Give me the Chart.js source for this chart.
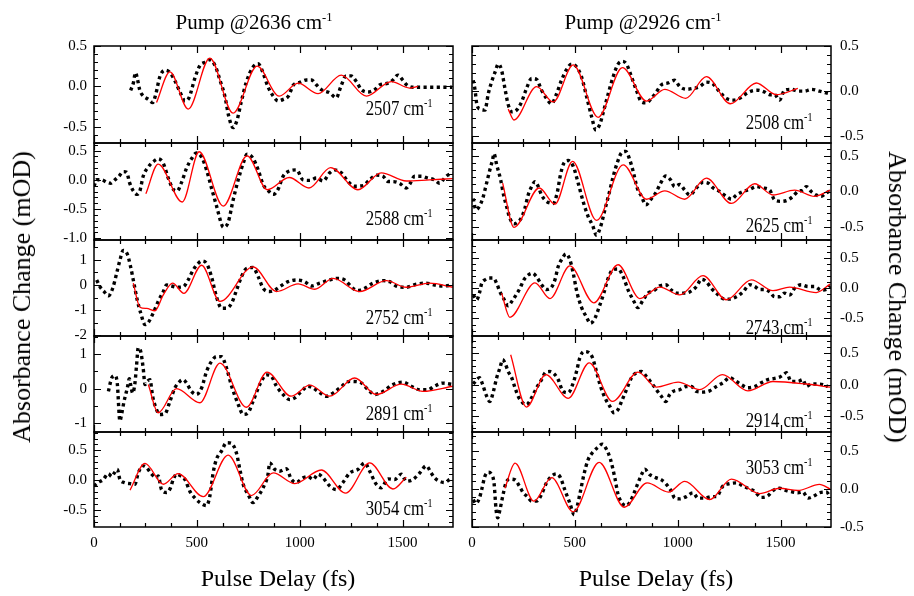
<!DOCTYPE html>
<html>
<head>
<meta charset="utf-8">
<script src="https://cdn.jsdelivr.net/npm/chart.js@4.4.1/dist/chart.umd.min.js"></script>
<style>
  body { margin: 0; background: #fff; }
  #wrap { position: relative; width: 914px; height: 596px; overflow: hidden;
          font-family: 'Liberation Serif', 'Times New Roman', serif; color: #000; }
  #wrap canvas { position: absolute; left: 0; top: 0; }
  .txt { position: absolute; white-space: nowrap; line-height: 1; }
  .txt sup { font-size: 0.6em; vertical-align: super; line-height: 0; }
  .wn { font-size: 20px; transform: scaleX(0.84); transform-origin: 100% 50%; }
</style>
</head>
<body>
<div id="wrap"></div>
<script>
// ── Data (delay in fs, absorbance change in mOD) ──
const pumpLabels = ['2636', '2926'];
const probeLabels = ['2507', '2588', '2752', '2891', '3054', '2508', '2625', '2743', '2914', '3053'];
const xTickLabels = [0, 500, 1000, 1500];

// pump 2636, probe 2507
const p2507Delay = [178,191,202,212,222,240,265,285,300,320,345,370,395,420,442,462,490,515,540,563,590,612,636,655,676,695,715,740,773,798,820,845,871,895,920,945,970,1000,1032,1057,1081,1105,1146,1178,1200,1225,1250,1275,1300,1332,1364,1390,1429,1453,1477,1500,1520,1550,1600,1650,1700,1740];
const p2507Signal = [-0.05,0.04,0.17,0.08,-0.04,-0.12,-0.16,-0.2,-0.1,0.12,0.2,0.17,0.06,-0.08,-0.18,-0.14,0.1,0.26,0.3,0.33,0.25,0.08,-0.12,-0.37,-0.51,-0.42,-0.2,0.05,0.24,0.28,0.18,0.0,-0.12,-0.18,-0.16,-0.12,0.02,0.05,0.08,0.08,0.02,-0.04,-0.08,-0.14,0.0,0.13,0.13,0.06,-0.04,-0.07,-0.04,0.02,0.04,0.08,0.14,0.08,0.02,-0.01,-0.01,-0.01,-0.01,-0.01];
const p2507FitDelay = [304,369,458,563,676,793,900,992,1089,1202,1324,1445,1534,1574];
const p2507Fit = [-0.2,0.18,-0.28,0.35,-0.33,0.25,-0.12,0.04,-0.09,0.14,-0.12,0.06,-0.02,0.0];

// pump 2636, probe 2588
const p2588Delay = [0,13,37,61,81,102,121,142,159,172,191,210,223,239,264,288,312,337,361,385,404,426,450,474,498,523,547,571,595,620,628,652,676,701,725,744,773,798,822,848,871,895,919,943,984,1016,1049,1081,1113,1146,1170,1202,1235,1267,1307,1340,1372,1405,1429,1453,1485,1518,1534,1558,1591,1623,1655,1680,1704,1720,1744];
const p2588Signal = [-0.11,0.0,0.0,-0.04,-0.06,0.0,0.06,0.14,0.13,-0.04,-0.19,-0.25,-0.19,0.06,0.22,0.31,0.36,0.28,0.03,-0.16,-0.19,-0.04,0.2,0.36,0.46,0.39,0.17,-0.14,-0.44,-0.76,-0.81,-0.73,-0.35,0.0,0.28,0.44,0.37,0.17,-0.08,-0.19,-0.25,-0.16,0.06,0.14,0.17,0.0,-0.01,0.03,-0.02,0.12,0.17,0.12,-0.03,-0.11,-0.1,0.0,0.08,0.06,-0.03,-0.03,-0.06,-0.14,-0.08,0.06,0.06,0.03,0.0,-0.06,0.03,0.08,0.11];
const p2588FitDelay = [252,312,429,511,628,744,843,949,1045,1150,1283,1396,1518,1631,1744];
const p2588Fit = [-0.24,0.27,-0.38,0.48,-0.45,0.41,-0.17,0.04,-0.14,0.21,-0.17,0.12,-0.02,0.0,0.02];

// pump 2636, probe 2752
const p2752Delay = [13,29,49,70,91,110,126,142,162,178,194,210,227,248,264,288,312,337,353,377,405,434,458,482,506,523,547,571,595,620,644,669,693,717,741,773,798,822,854,879,903,943,984,1024,1057,1097,1146,1186,1218,1259,1283,1316,1356,1405,1437,1477,1518,1566,1615,1655,1696,1744];
const p2752Signal = [0.2,-0.07,-0.26,-0.43,-0.13,0.46,0.98,1.37,1.22,0.72,0.07,-0.59,-1.11,-1.57,-1.48,-1.11,-0.65,-0.26,0.0,-0.04,-0.09,-0.07,0.2,0.59,0.85,0.95,0.85,0.33,-0.46,-0.92,-0.92,-0.72,-0.2,0.33,0.65,0.69,0.33,-0.13,-0.26,-0.2,-0.07,0.13,0.2,0.13,-0.04,0.07,0.2,0.26,0.2,-0.13,-0.22,-0.13,0.07,0.17,0.13,-0.07,-0.09,0.03,0.07,0.0,-0.04,0.0];
const p2752FitDelay = [191,223,256,296,337,382,437,523,612,773,887,992,1073,1162,1291,1421,1518,1631,1744];
const p2752Fit = [0.07,-0.88,-0.93,-1.02,-0.39,0.07,-0.33,0.78,-0.65,0.72,-0.26,0.04,-0.17,0.26,-0.26,0.17,-0.09,0.07,-0.09];

// pump 2636, probe 2891
const p2891Delay = [70,86,102,113,126,134,146,162,172,178,188,199,207,215,227,239,248,259,272,285,301,320,345,369,393,417,434,450,474,498,523,547,571,595,620,644,669,701,725,749,773,806,838,862,887,919,951,976,1008,1040,1065,1089,1129,1162,1194,1243,1291,1332,1364,1405,1453,1502,1542,1583,1623,1655,1696,1744];
const p2891Signal = [-0.08,0.31,0.38,0.16,-0.94,-0.75,-0.37,0.02,0.29,0.12,-0.13,0.16,0.69,1.19,1.08,0.6,0.12,0.21,0.26,-0.22,-0.56,-0.75,-0.73,-0.37,0.02,0.21,0.26,0.16,-0.08,-0.17,0.02,0.5,0.79,0.93,0.93,0.6,0.07,-0.46,-0.75,-0.7,-0.37,0.12,0.4,0.36,0.07,-0.17,-0.32,-0.27,-0.08,0.07,0.02,-0.08,-0.22,-0.13,0.02,0.21,0.19,-0.03,-0.17,-0.08,0.12,0.19,0.07,-0.03,-0.03,0.07,0.16,0.12];
const p2891FitDelay = [264,312,401,515,612,741,841,958,1049,1146,1267,1372,1494,1599,1744];
const p2891Fit = [0.12,-0.7,0.0,-0.41,0.74,-0.54,0.48,-0.22,0.1,-0.22,0.31,-0.17,0.13,-0.08,0.07];

// pump 2636, probe 3054
const p3054Delay = [0,21,45,70,86,97,113,126,146,175,199,215,239,256,280,304,312,328,353,372,385,401,417,442,466,490,515,547,563,579,595,620,644,668,692,709,725,749,773,798,822,846,854,879,903,935,960,984,1016,1040,1065,1089,1113,1146,1178,1210,1243,1283,1316,1340,1372,1396,1429,1461,1494,1518,1550,1583,1615,1639,1655,1680,1704,1728];
const p3054Signal = [-0.1,-0.04,0.01,0.11,0.06,0.11,0.18,0.01,-0.04,-0.06,-0.07,0.12,0.24,0.21,0.1,0.04,0.07,-0.16,-0.21,-0.13,0.01,0.1,0.08,0.01,-0.19,-0.3,-0.38,-0.43,-0.27,0.12,0.35,0.49,0.63,0.62,0.46,0.18,-0.07,-0.24,-0.38,-0.27,-0.13,0.1,0.29,0.18,0.15,0.19,0.01,-0.04,0.04,0.06,0.01,0.1,0.04,-0.1,-0.16,-0.04,0.12,0.18,0.29,0.15,-0.07,-0.13,0.02,0.01,0.1,-0.02,0.01,0.12,0.24,0.12,0.04,-0.02,-0.04,0.01];
const p3054FitDelay = [175,248,337,409,531,652,765,871,976,1105,1223,1340,1453,1518];
const p3054Fit = [-0.17,0.28,-0.07,0.11,-0.28,0.42,-0.26,0.12,-0.06,0.17,-0.22,0.29,-0.15,0.05];

// pump 2926, probe 2508
const q2508Delay = [6,15,23,39,63,79,95,112,128,144,160,176,193,217,241,265,290,314,338,362,387,411,435,460,484,508,532,557,581,602,621,641,662,686,710,731,751,775,799,824,848,872,896,921,953,985,1010,1042,1074,1107,1139,1171,1204,1236,1269,1301,1325,1358,1390,1422,1447,1471,1495,1519,1552,1584,1617,1650,1689,1722,1738];
const q2508Signal = [0.12,0.01,-0.14,-0.2,-0.21,-0.03,0.1,0.21,0.3,0.23,0.03,-0.15,-0.23,-0.21,-0.12,0.03,0.14,0.13,0.01,-0.08,-0.14,-0.03,0.12,0.24,0.3,0.27,0.16,-0.06,-0.28,-0.43,-0.37,-0.21,-0.03,0.16,0.3,0.33,0.3,0.16,0.01,-0.12,-0.13,-0.08,-0.01,0.07,0.09,0.12,0.05,0.02,0.03,0.05,0.1,0.08,-0.01,-0.08,-0.1,-0.08,-0.04,0.0,0.01,-0.01,-0.04,-0.04,-0.1,0.01,0.02,0.0,0.0,0.02,0.0,-0.02,-0.03];
const q2508FitDelay = [176,204,314,395,492,613,731,848,937,1039,1139,1256,1382,1479,1584];
const q2508Fit = [-0.2,-0.32,0.05,-0.12,0.29,-0.29,0.26,-0.11,0.02,-0.08,0.16,-0.14,0.09,-0.04,0.03];

// pump 2926, probe 2625
const q2625Delay = [6,19,36,52,71,87,100,107,120,139,155,168,184,204,225,241,257,273,290,306,322,338,362,395,414,430,446,468,492,516,540,565,586,605,625,646,667,686,705,727,748,767,783,803,824,845,867,893,917,942,964,985,1010,1034,1058,1091,1123,1147,1172,1204,1236,1261,1285,1317,1350,1382,1414,1447,1471,1503,1536,1560,1584,1608,1625,1649,1673,1697,1722,1741];
const q2625Signal = [-0.1,-0.26,-0.21,-0.1,0.12,0.31,0.45,0.54,0.38,0.17,-0.07,-0.21,-0.38,-0.46,-0.43,-0.37,-0.24,-0.05,0.07,0.14,0.07,-0.05,-0.14,-0.17,-0.02,0.24,0.4,0.44,0.36,0.12,-0.14,-0.36,-0.48,-0.62,-0.5,-0.26,-0.02,0.21,0.4,0.55,0.57,0.45,0.29,0.05,-0.07,-0.19,-0.12,-0.02,0.12,0.22,0.17,0.07,0.1,0.02,-0.05,0.05,0.13,0.12,0.05,0.0,-0.07,-0.11,-0.05,0.0,0.03,0.07,0.05,0.02,-0.12,-0.14,-0.12,-0.07,0.0,0.02,0.07,0.0,-0.05,-0.07,-0.02,0.01];
const q2625FitDelay = [149,204,327,403,489,605,735,848,937,1034,1139,1261,1374,1463,1568,1665,1741];
const q2625Fit = [0.12,-0.51,0.05,-0.18,0.43,-0.41,0.38,-0.11,0.01,-0.11,0.19,-0.17,0.11,-0.05,0.02,-0.07,0.02];

// pump 2926, probe 2743
const q2743Delay = [6,23,36,47,63,84,104,120,136,157,176,193,214,233,252,273,294,314,338,362,382,403,419,440,456,476,492,511,532,557,576,597,618,641,662,686,710,735,759,783,807,832,856,888,913,942,969,994,1026,1058,1091,1115,1139,1163,1188,1220,1252,1285,1317,1350,1374,1398,1422,1447,1471,1495,1519,1544,1568,1600,1633,1665,1697,1722,1741];
const q2743Signal = [-0.11,-0.19,-0.08,0.08,0.14,0.17,0.17,0.08,-0.06,-0.19,-0.29,-0.22,-0.11,0.0,0.14,0.22,0.25,0.19,0.06,-0.02,0.0,0.14,0.36,0.5,0.57,0.47,0.25,-0.08,-0.31,-0.48,-0.58,-0.5,-0.31,-0.08,0.17,0.31,0.32,0.19,-0.03,-0.19,-0.32,-0.19,-0.08,-0.03,0.04,0.06,-0.03,-0.08,-0.08,-0.06,0.03,0.15,0.11,0.0,-0.08,-0.17,-0.18,-0.14,-0.06,0.06,0.03,-0.02,-0.02,-0.06,-0.14,-0.14,-0.08,-0.11,0.0,0.06,0.03,0.03,-0.03,-0.02,0.04];
const q2743FitDelay = [144,184,306,379,476,592,710,816,913,1010,1123,1236,1358,1463,1544,1673,1741];
const q2743Fit = [-0.08,-0.48,0.09,-0.17,0.37,-0.24,0.39,-0.17,0.02,-0.11,0.21,-0.19,0.14,-0.04,0.02,-0.07,0.07];

// pump 2926, probe 2914
const q2914Delay = [6,19,36,52,68,87,104,120,136,149,160,176,193,209,225,246,265,290,314,338,359,379,403,419,443,468,489,508,524,544,565,586,605,625,646,670,689,710,727,751,775,799,824,848,872,896,921,942,961,977,1010,1042,1066,1091,1123,1155,1188,1220,1252,1285,1309,1341,1374,1406,1438,1471,1495,1515,1528,1552,1584,1608,1625,1649,1681,1706,1730];
const q2914Signal = [0.01,0.06,0.11,0.0,-0.16,-0.27,-0.11,0.11,0.27,0.4,0.35,0.21,0.11,-0.05,-0.19,-0.29,-0.32,-0.21,-0.05,0.08,0.2,0.21,0.16,0.08,-0.11,-0.13,0.0,0.21,0.43,0.53,0.52,0.43,0.21,-0.03,-0.21,-0.35,-0.45,-0.4,-0.27,-0.08,0.11,0.19,0.21,0.13,0.03,-0.08,-0.19,-0.27,-0.16,-0.11,-0.08,-0.03,-0.03,-0.11,-0.12,-0.1,-0.03,0.03,0.11,0.05,0.0,-0.05,-0.03,0.03,0.08,0.1,0.12,0.16,0.19,0.05,0.05,0.08,-0.03,0.01,0.01,0.0,-0.03];
const q2914FitDelay = [188,265,359,468,570,683,807,896,1002,1107,1217,1341,1463,1625,1741];
const q2914Fit = [0.48,-0.36,0.16,-0.22,0.35,-0.27,0.2,-0.04,0.04,-0.08,0.16,-0.1,0.05,0.01,-0.04];

// pump 2926, probe 3053
const q3053Delay = [6,19,36,47,63,79,95,107,117,125,136,149,165,184,209,230,249,269,290,314,338,362,387,411,430,451,476,497,511,524,544,565,586,608,634,654,673,694,710,731,751,770,791,807,824,840,864,893,921,945,969,985,1010,1042,1074,1099,1131,1163,1188,1220,1252,1285,1317,1341,1374,1406,1438,1463,1495,1528,1560,1584,1608,1633,1657,1689,1722,1741];
const q3053Signal = [-0.14,-0.19,-0.12,-0.01,0.17,0.22,0.19,0.08,-0.27,-0.38,-0.27,-0.1,0.08,0.13,0.12,0.04,-0.05,-0.1,-0.16,-0.16,-0.07,0.08,0.17,0.2,0.15,-0.01,-0.19,-0.34,-0.23,-0.07,0.19,0.39,0.48,0.54,0.59,0.52,0.39,0.15,-0.07,-0.19,-0.22,-0.16,-0.03,0.08,0.19,0.26,0.19,0.15,0.12,0.06,-0.03,-0.12,-0.13,-0.1,-0.05,-0.12,-0.12,-0.1,-0.1,0.04,0.07,0.08,0.04,0.01,-0.03,-0.11,-0.09,-0.02,0.01,-0.02,-0.04,-0.05,-0.04,-0.12,-0.1,-0.05,-0.04,-0.1];
const q3053FitDelay = [160,209,301,387,492,618,740,851,955,1034,1155,1261,1398,1495,1584,1689,1741];
const q3053Fit = [0.01,0.34,-0.16,0.15,-0.3,0.35,-0.24,0.08,-0.04,0.1,-0.14,0.13,-0.06,0.01,-0.02,0.06,0.0];

// y-axis limits and label steps per panel (left column rows, then right column rows)
const yMins = [-0.7, -1.03, -2.02, -1.26, -0.79, -0.575, -0.69, -0.79, -0.76, -0.5];
const yMaxs = [0.5, 0.63, 1.78, 1.53, 0.81, 0.5, 0.69, 0.8, 0.78, 0.75];
const yLabelSteps = [0.5, 0.5, 1, 1, 0.5, 0.5, 0.5, 0.5, 0.5, 0.5];
const yMinorSteps = [0.1, 0.1, 0.5, 0.5, 0.1, 0.1, 0.1, 0.1, 0.1, 0.1];
const xMax = 1745;

const series = [
  [p2507Delay, p2507Signal, p2507FitDelay, p2507Fit],
  [p2588Delay, p2588Signal, p2588FitDelay, p2588Fit],
  [p2752Delay, p2752Signal, p2752FitDelay, p2752Fit],
  [p2891Delay, p2891Signal, p2891FitDelay, p2891Fit],
  [p3054Delay, p3054Signal, p3054FitDelay, p3054Fit],
  [q2508Delay, q2508Signal, q2508FitDelay, q2508Fit],
  [q2625Delay, q2625Signal, q2625FitDelay, q2625Fit],
  [q2743Delay, q2743Signal, q2743FitDelay, q2743Fit],
  [q2914Delay, q2914Signal, q2914FitDelay, q2914Fit],
  [q3053Delay, q3053Signal, q3053FitDelay, q3053Fit],
];

// ── Layout ────────────────────────────────────────────────
const colLeft = [94, 472], colRight = [453, 831];
const rowTop = [46, 143, 240, 336, 432], rowBottom = [143, 240, 336, 432, 527];
const AXIS_W = 40, X_AXIS_H = 30;
const W = 914, H = 596;
// centre y of each probe label, same order as probeLabels
const probeLabelY = [108, 218, 317, 413, 508, 122, 225, 327, 420, 467];
const probeLabelRight = [432, 812];

const wrap = document.getElementById('wrap');
const FONT_FAMILY = "'Liberation Serif', 'Times New Roman', serif";
const tickFont = { family: FONT_FAMILY, size: 15 };

// frame with inward tick marks on all four sides, plus x labels on the bottom row
const frameTicks = {
  id: 'frameTicks',
  afterDatasetsDraw(chart, args, opts) {
    const { ctx, chartArea: a, scales: { x, y } } = chart;
    ctx.save();
    ctx.strokeStyle = '#000';
    ctx.lineWidth = 1.2;
    ctx.beginPath();
    for (let i = 0; i * 125 <= x.max; i++) {
      const px = Math.round(x.getPixelForValue(i * 125)) + 0.5;
      const len = i % 4 === 0 ? 7 : 4;
      ctx.moveTo(px, a.bottom); ctx.lineTo(px, a.bottom - len);
      ctx.moveTo(px, a.top); ctx.lineTo(px, a.top + len);
    }
    const ratio = Math.round(opts.major / opts.minor);
    const k0 = Math.ceil(y.min / opts.minor - 1e-6), k1 = Math.floor(y.max / opts.minor + 1e-6);
    for (let k = k0; k <= k1; k++) {
      const py = Math.round(y.getPixelForValue(k * opts.minor)) + 0.5;
      const len = ((k % ratio) + ratio) % ratio === 0 ? 7 : 4;
      ctx.moveTo(a.left, py); ctx.lineTo(a.left + len, py);
      ctx.moveTo(a.right, py); ctx.lineTo(a.right - len, py);
    }
    ctx.stroke();
    ctx.lineWidth = 1.5;
    ctx.strokeRect(a.left, a.top, a.right - a.left, a.bottom - a.top);

    if (opts.xLabels) {
      ctx.fillStyle = '#000';
      ctx.font = `15px ${FONT_FAMILY}`;
      ctx.textAlign = 'center';
      ctx.textBaseline = 'top';
      xTickLabels.forEach(v => ctx.fillText(String(v), x.getPixelForValue(v), a.bottom + 9));
    }
    ctx.restore();
  }
};

function makePanel(idx) {
  const col = idx < 5 ? 0 : 1, row = idx % 5;
  const [delay, signal, fitDelay, fit] = series[idx];
  const left = colLeft[col], right = colRight[col];
  const top = rowTop[row], bottom = rowBottom[row];
  const bottomRow = row === 4, yRight = col === 1;
  const intLabels = yLabelSteps[idx] >= 1;

  const cv = document.createElement('canvas');
  cv.width = W; cv.height = H;
  wrap.appendChild(cv);

  new Chart(cv, {
    type: 'line',
    data: {
      datasets: [
        {
          data: fitDelay.map((x, i) => ({ x, y: fit[i] })),
          borderColor: '#ff0000', borderWidth: 1.3, pointRadius: 0,
          cubicInterpolationMode: 'monotone', order: 0,
        },
        {
          data: delay.map((x, i) => ({ x, y: signal[i] })),
          borderColor: '#000', borderWidth: 3.4, borderDash: [3.2, 3.4], pointRadius: 0,
          cubicInterpolationMode: 'monotone', order: 1,
        }
      ]
    },
    options: {
      responsive: false,
      animation: false,
      devicePixelRatio: 1,
      layout: {
        padding: {
          left: yRight ? left : left - AXIS_W,
          right: yRight ? W - right - AXIS_W : W - right,
          top: top,
          bottom: H - bottom - (bottomRow ? X_AXIS_H : 0),
        }
      },
      plugins: {
        legend: { display: false },
        tooltip: { enabled: false },
        frameTicks: { major: yLabelSteps[idx], minor: yMinorSteps[idx], xLabels: bottomRow },
      },
      scales: {
        x: {
          type: 'linear', min: 0, max: xMax,
          grid: { display: false, drawTicks: false },
          border: { display: false },
          ticks: { display: false },
          afterFit: s => { s.height = bottomRow ? X_AXIS_H : 0; },
        },
        y: {
          type: 'linear', position: yRight ? 'right' : 'left',
          min: yMins[idx], max: yMaxs[idx],
          grid: { display: false, drawTicks: false },
          border: { display: false },
          ticks: {
            stepSize: yLabelSteps[idx], includeBounds: false, autoSkip: false,
            padding: yRight ? 9 : 7, font: tickFont, color: '#000',
            callback: v => {
              const r = Math.abs(v) < 1e-9 ? 0 : v;
              return intLabels ? Math.round(r).toString() : r.toFixed(1);
            },
          },
          afterFit: s => { s.width = AXIS_W; },
        }
      }
    },
    plugins: [frameTicks]
  });

  const lab = document.createElement('div');
  lab.className = 'txt wn';
  lab.style.right = (W - probeLabelRight[col]) + 'px';
  lab.style.top = (probeLabelY[idx] - 10) + 'px';
  lab.innerHTML = probeLabels[idx] + ' cm<sup>-1</sup>';
  wrap.appendChild(lab);
}

for (let i = 0; i < 10; i++) makePanel(i);

// ── Titles ────────────────────────────────────────────────
function addText(html, css) {
  const d = document.createElement('div');
  d.className = 'txt';
  d.innerHTML = html;
  Object.assign(d.style, css);
  wrap.appendChild(d);
}
addText(`Pump @${pumpLabels[0]} cm<sup>-1</sup>`, { left: '254px', top: '12px', fontSize: '21px', transform: 'translateX(-50%)' });
addText(`Pump @${pumpLabels[1]} cm<sup>-1</sup>`, { left: '643px', top: '12px', fontSize: '21px', transform: 'translateX(-50%)' });
addText('Pulse Delay (fs)', { left: '278px', top: '566px', fontSize: '24px', transform: 'translateX(-50%)' });
addText('Pulse Delay (fs)', { left: '656px', top: '566px', fontSize: '24px', transform: 'translateX(-50%)' });
addText('Absorbance Change (mOD)', { left: '22px', top: '297px', fontSize: '26px', transform: 'translate(-50%, -50%) rotate(-90deg)' });
addText('Absorbance Change (mOD)', { left: '897px', top: '297px', fontSize: '26px', transform: 'translate(-50%, -50%) rotate(90deg)' });
</script>
</body>
</html>
